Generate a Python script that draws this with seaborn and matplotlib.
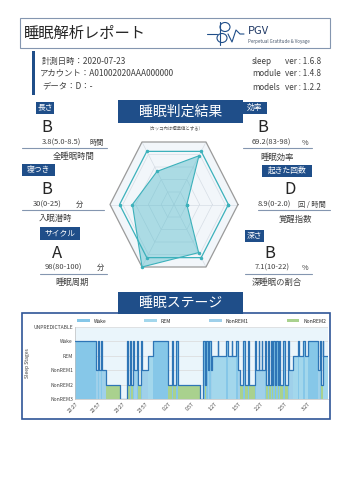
"""
Sleep analysis report sheet: metric cards, radar of scores, hypnogram.
"""
import numpy as np
import pandas as pd
import matplotlib
matplotlib.use('Agg')
import matplotlib.pyplot as plt
from matplotlib.patches import Rectangle, Ellipse, Patch
import seaborn as sns

# ================================================================
# Data
# ================================================================
REPORT_TITLE = '睡眠解析レポート'
INFO_LEFT = ['計測日時：2020-07-23', 'アカウント：A01002020AAA000000', 'データ：D：-']
VER_NAMES = ['sleep', 'module', 'models']
VER_NUMBERS = ['1.6.8', '1.4.8', '1.2.2']

CARD_TAG = ['長さ', '寝つき', 'サイクル', '効率', '起きた回数', '深さ']
CARD_GRADE = ['B', 'B', 'A', 'B', 'D', 'B']
CARD_VALUE = ['3.8(5.0-8.5)', '30(0-25)', '98(80-100)', '69.2(83-98)', '8.9(0-2.0)', '7.1(10-22)']
CARD_UNIT = ['時間', '分', '分', '%', '回 / 時間', '%']
CARD_NAME = ['全睡眠時間', '入眠潜時', '睡眠周期', '睡眠効率', '覚醒指数', '深睡眠の割合']

# radar axes, counter-clockwise starting at the right-hand vertex
RADAR_AXES = ['起きた回数', '効率', '長さ', '寝つき', 'サイクル', '深さ']
RADAR_SCORE = [0.20, 0.78, 0.53, 0.65, 1.00, 0.77]
RADAR_STANDARD = [0.85, 0.85, 0.85, 0.85, 0.85, 0.85]

# hypnogram: segment start (minutes from record start) and stage
STAGE_NAMES = ['NonREM3', 'NonREM2', 'NonREM1', 'REM', 'Wake', 'UNPREDICTABLE']
SEG_START = [0, 27, 30, 31, 34, 35, 40, 58, 68, 69, 71, 73, 75, 77, 81, 82, 86, 87,
             95, 101, 121, 126, 127, 131, 133, 162, 166, 168, 170, 172, 174, 176,
             178, 185, 186, 196, 198, 203, 204, 209, 211, 214, 218, 220, 224, 225,
             234, 235, 238, 239, 242, 243, 246, 247, 250, 251, 254, 255, 257, 259,
             261, 263, 265, 266, 270, 272, 276, 277, 282, 289, 290, 296, 298, 302,
             315, 317, 319, 321, 322]
SEG_STAGE = ['Wake', 'NonREM1', 'Wake', 'NonREM1', 'Wake', 'NonREM1', 'NonREM2', 'NonREM3',
             'Wake', 'NonREM2', 'Wake', 'NonREM2', 'Wake', 'NonREM1', 'Wake', 'NonREM2',
             'Wake', 'NonREM1', 'REM', 'Wake', 'NonREM2', 'Wake', 'NonREM2', 'Wake',
             'NonREM2', 'NonREM3', 'Wake', 'NonREM2', 'Wake', 'NonREM1', 'Wake', 'NonREM1',
             'REM', 'Wake', 'REM', 'Wake', 'REM', 'Wake', 'REM', 'Wake', 'NonREM1',
             'NonREM2', 'Wake', 'NonREM2', 'Wake', 'NonREM2', 'Wake', 'NonREM1', 'Wake',
             'NonREM1', 'Wake', 'NonREM1', 'Wake', 'NonREM2', 'Wake', 'NonREM2', 'Wake',
             'NonREM2', 'Wake', 'NonREM2', 'Wake', 'NonREM2', 'Wake', 'NonREM2', 'Wake',
             'NonREM2', 'Wake', 'NonREM1', 'REM', 'Wake', 'REM', 'Wake', 'REM', 'Wake',
             'NonREM1', 'Wake', 'NonREM2', 'Wake', 'REM']
RECORD_END = 328
TICK_MIN = [6, 36, 66, 96, 126, 156, 186, 216, 246, 276, 306]
TICK_LABELS = ['22:27', '22:57', '23:27', '23:57', '0:27', '0:57', '1:27', '1:57',
               '2:27', '2:57', '3:27']

# ================================================================
# Style
# ================================================================
sns.set_theme(style='white')
plt.rcParams['font.family'] = ['Noto Sans CJK JP', 'DejaVu Sans']

NAVY = '#1f4e89'
TEAL = '#3cb1bb'
TXT = '#262626'
GREY = '#404040'
FILL = {'Wake': '#86c7e8', 'REM': '#a3d7ec', 'NonREM1': '#9fd0ea', 'NonREM2': '#a9d18e'}

W, H = 350, 495
fig = plt.figure(figsize=(3.5, 4.95), dpi=100)
bg = fig.add_axes([0, 0, 1, 1])
bg.set_xlim(0, W)
bg.set_ylim(H, 0)
bg.axis('off')


def frac(x0, y0, x1, y1):
    return [x0 / W, (H - y1) / H, (x1 - x0) / W, (y1 - y0) / H]


# ================================================================
# Header
# ================================================================
bg.add_patch(Rectangle((20, 18), 310, 30, fill=False, ec='#8496b0', lw=0.8))
bg.text(24, 33, REPORT_TITLE, fontsize=11, color=TXT, va='center')
# logo
bg.add_patch(Ellipse((225, 27), 10, 9, fill=False, ec=NAVY, lw=0.8))
bg.plot([220, 220], [22, 45], color=NAVY, lw=0.8)
bg.add_patch(Ellipse((222, 38), 10, 9, fill=False, ec=NAVY, lw=0.8))
bg.plot([207, 217], [34, 34], color=NAVY, lw=0.8)
bg.plot([228, 232, 236, 240, 244], [34, 42, 30, 34, 34], color=NAVY, lw=0.8)
bg.text(248, 31, 'PGV', fontsize=8, color='#1f3864', va='center')
bg.text(248, 41.5, 'Perpetual Gratitude & Voyage', fontsize=3.2, color='#44546a', va='center')

bg.add_patch(Rectangle((32, 51), 3, 44, color=NAVY, lw=0))
for i, (line, y) in enumerate(zip(INFO_LEFT, [61, 73, 86])):
    bg.text(42 if i != 1 else 40, y, line, fontsize=6, color=GREY, va='center')
for name, num, y in zip(VER_NAMES, VER_NUMBERS, [61, 73, 87]):
    bg.text(252, y, name, fontsize=5.8, color=GREY, va='center')
    bg.text(285, y, f'ver : {num}', fontsize=5.8, color=GREY, va='center')

# ================================================================
# Banners
# ================================================================
for (y0, y1, label) in [(100, 123, '睡眠判定結果'), (292, 314, '睡眠ステージ')]:
    bg.add_patch(Rectangle((118, y0), 125, y1 - y0, color=NAVY, lw=0, zorder=5))
    bg.text(180.5, (y0 + y1) / 2, label, fontsize=10, color='white',
            ha='center', va='center', zorder=6)
bg.text(175, 128, '（カッコ内は標準値とする）', fontsize=3.2, color='#595959',
        ha='center', va='center')

# ================================================================
# Metric cards
# ================================================================
# tag box, grade pos, value pos, unit x, underline, name pos
LAYOUT = [
    ((36, 54, 102, 114), (47, 128), (42, 143), 90, (22, 107, 148), (74, 157)),
    ((22, 55, 164, 176), (47, 190), (33, 205), 76, (22, 104, 210), (55, 218)),
    ((40, 80, 227, 240), (57, 254), (45, 268), 97, (40, 107, 274), (72, 282)),
    ((243, 267, 102, 114), (263, 128), (252, 143), 302, (243, 312, 148), (277, 157)),
    ((262, 312, 165, 177), (290, 190), (258, 205), 298, (258, 330, 210), (295, 219)),
    ((245, 264, 230, 242), (270, 254), (255, 268), 302, (245, 312, 274), (277, 282)),
]
for i, (tag, gpos, vpos, ux, uline, npos) in enumerate(LAYOUT):
    x0, x1, y0, y1 = tag
    bg.add_patch(Rectangle((x0, y0), x1 - x0, y1 - y0, color=NAVY, lw=0))
    bg.text((x0 + x1) / 2, (y0 + y1) / 2, CARD_TAG[i], fontsize=5.6, color='white',
            ha='center', va='center')
    bg.text(gpos[0], gpos[1], CARD_GRADE[i], fontsize=12, color=TXT, ha='center', va='center')
    bg.text(vpos[0], vpos[1], CARD_VALUE[i], fontsize=5.4, color=GREY, va='center')
    bg.text(ux, vpos[1], CARD_UNIT[i], fontsize=5.2, color=GREY, va='center')
    bg.plot([uline[0], uline[1]], [uline[2], uline[2]], color='#8496b0', lw=0.8)
    bg.text(npos[0], npos[1], CARD_NAME[i], fontsize=6, color=GREY,
            ha='center', va='center')

# ================================================================
# Radar
# ================================================================
cx, cy, rx, ry = 174, 204.5, 64 * 1.06, 62.5 * 1.06
rad = fig.add_axes(frac(cx - rx, cy - ry, cx + rx, cy + ry))
rad.set_xlim(-1.06, 1.06)
rad.set_ylim(-0.866 * 1.06, 0.866 * 1.06)
rad.axis('off')
ang = np.deg2rad(np.arange(len(RADAR_AXES)) * 60.0)
ang_c = np.append(ang, ang[0])


def ring(values):
    v = np.append(values, values[0])
    return v * np.cos(ang_c), v * np.sin(ang_c)


ox, oy = ring(np.ones(len(ang)))
rad.fill(ox, oy, color='#f2f6fa', lw=0, zorder=0)
for lvl in [0.2, 0.4, 0.6, 0.8]:
    gx, gy = ring(np.full(len(ang), lvl))
    rad.plot(gx, gy, color='#d6dde5', lw=0.5, zorder=1)
for a in ang:
    rad.plot([0, np.cos(a)], [0, np.sin(a)], color='#d6dde5', lw=0.5, zorder=1)
rad.plot(ox, oy, color='#9a9a9a', lw=0.9, zorder=2)

sx, sy = ring(np.array(RADAR_STANDARD))
rad.plot(sx, sy, color=TEAL, lw=0.9, marker='o', ms=1.5, zorder=4)
dx, dy = ring(np.array(RADAR_SCORE))
rad.fill(dx, dy, color='#55bccb', alpha=0.45, lw=0, zorder=3)
rad.plot(dx, dy, color=TEAL, lw=0.8, marker='o', ms=1.5, zorder=4)

# ================================================================
# Hypnogram
# ================================================================
bg.add_patch(Rectangle((22, 313), 308, 106, fill=False, ec='#2f5597', lw=1.2))
st = fig.add_axes(frac(75, 327, 328, 399))
st.set_facecolor('#eaf5fb')

level = {s: i for i, s in enumerate(STAGE_NAMES)}
t = np.array(SEG_START + [RECORD_END], dtype=float)
lv = np.array([level[s] for s in SEG_STAGE] + [level[SEG_STAGE[-1]]], dtype=float)
stage_arr = np.array(SEG_STAGE + [SEG_STAGE[-1]])
for s in ['Wake', 'REM', 'NonREM1', 'NonREM2']:
    st.fill_between(t, 0, np.where(stage_arr == s, level[s], 0), step='post',
                    color=FILL[s], lw=0, zorder=2)
df = pd.DataFrame({'minute': t, 'level': lv})
sns.lineplot(data=df, x='minute', y='level', drawstyle='steps-post', estimator=None,
             color='#2e75b6', lw=0.9, ax=st, zorder=3)

st.set_xlim(0, RECORD_END)
st.set_ylim(0, 5)
st.set_yticks(range(len(STAGE_NAMES)))
st.set_yticklabels(STAGE_NAMES, fontsize=3.6, color=GREY)
st.set_xticks(TICK_MIN)
st.set_xticklabels(TICK_LABELS, fontsize=3.6, color=GREY, rotation=45, ha='right')
st.tick_params(axis='both', length=0, pad=1.5)
st.yaxis.grid(True, color='#d9d9d9', lw=0.5)
st.set_axisbelow(True)
for side in ['top', 'right']:
    st.spines[side].set_visible(False)
for side in ['left', 'bottom']:
    st.spines[side].set_color('#bfbfbf')
    st.spines[side].set_linewidth(0.5)
st.set_xlabel('')
st.set_ylabel('')
bg.text(28, 363, 'Sleep Stages', fontsize=3.6, color=GREY, rotation=90,
        ha='center', va='center')

handles = [Patch(color=FILL[s], lw=0) for s in ['Wake', 'REM', 'NonREM1', 'NonREM2']]
st.legend(handles, ['Wake', 'REM', 'NonREM1', 'NonREM2'], ncol=4, loc='lower left',
          bbox_to_anchor=(0.0, 1.02, 1.0, 0.1), mode='expand', frameon=False,
          fontsize=3.6, handlelength=2.5, handleheight=0.6, borderaxespad=0)

fig.savefig('out.png', dpi=100)
